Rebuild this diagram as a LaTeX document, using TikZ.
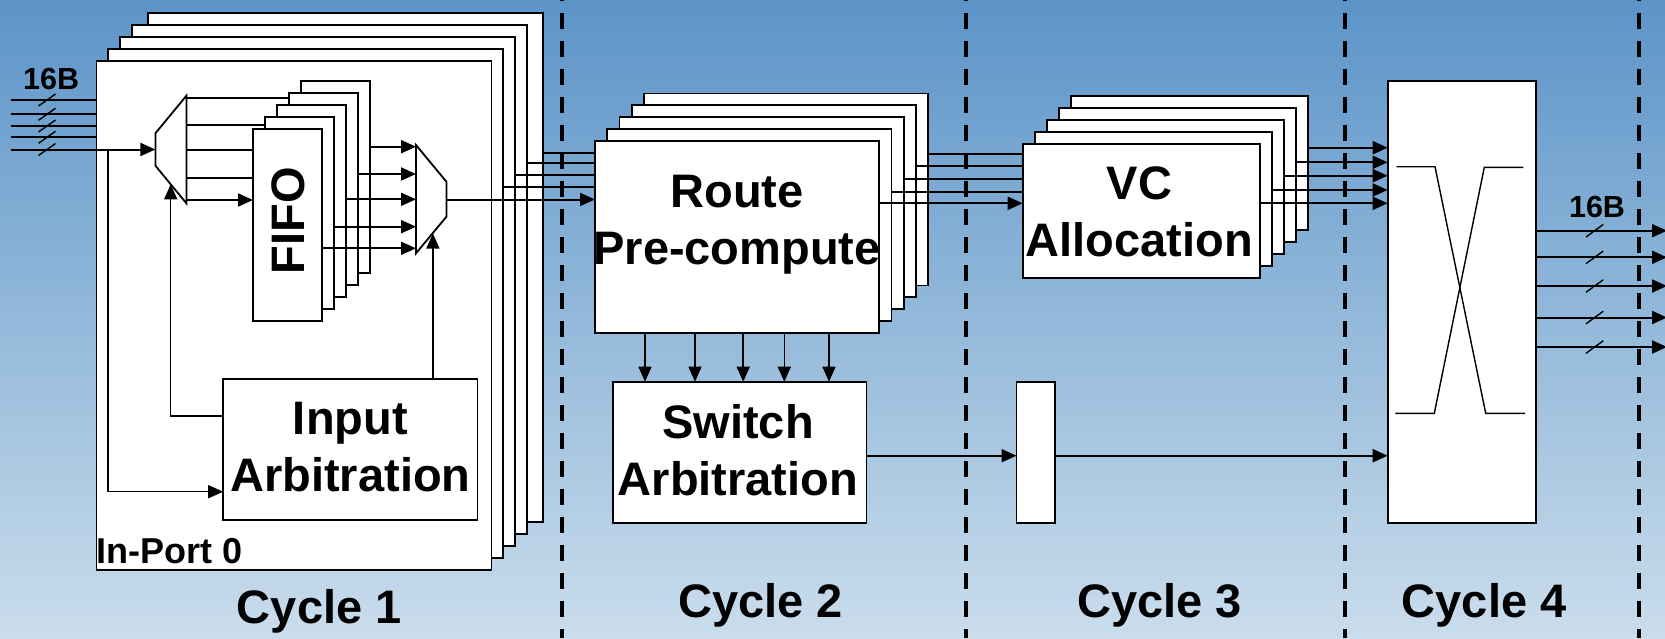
\documentclass[tikz,border=0pt]{standalone}
\usepackage{fontspec}
\setmainfont{Liberation Sans}
\usetikzlibrary{arrows.meta,calc}

\definecolor{bgtop}{RGB}{92,148,200}
\definecolor{bgmid}{RGB}{140,182,216}
\definecolor{bgbot}{RGB}{202,221,236}

\tikzset{
  blk/.style={draw=black, fill=white, line width=1.8pt, inner sep=0pt, outer sep=0pt, anchor=north west},
  sig/.style={line width=2pt},
  ctl/.style={line width=1.5pt},
  arr/.style={-{Triangle[length=15pt,width=13pt]}},
  cut/.style={line width=1.4pt},
  lbl/.style={font=\bfseries\fontsize{47}{57}\selectfont, align=center, inner sep=0pt},
  bw/.style={font=\bfseries\fontsize{30.5}{34}\selectfont, anchor=base, inner sep=0pt},
  stage/.style={line width=4pt, dash pattern=on 16pt off 12pt, dash phase=15pt},
}

\begin{document}
\begin{tikzpicture}[x=1pt, y=-1pt]
    % background
    \useasboundingbox (0,0) rectangle (1665,638);
    \clip (0,0) rectangle (1665,638);
    \shade[top color=bgtop, middle color=bgmid, bottom color=bgbot] (0,0) rectangle (1665,638);

    % cycle borders
    \foreach \x in {562,966.2,1344.7,1639}
        \draw[stage] (\x,0) -- (\x,638);

    % In-Port stack
    \foreach \i/\dx/\dy in {4/51.5/48.3,3/35.7/36.3,2/23.6/23.7,1/11.6/11.7,0/0/0}
        \node[blk, minimum width=395, minimum height=509] (ip\i) at (96.4+\dx,61-\dy) {};
    \node[font=\bfseries\fontsize{36}{40}\selectfont, anchor=base west, inner sep=0pt] (ip-txt) at (96.4,563.3) {In-Port 0};

    % FIFO stack
    \foreach \i in {4,3,2,1,0}
        \node[blk, minimum width=69, minimum height=192] (ff\i) at (253+12*\i,129-12*\i) {};
    \node[lbl, rotate=90] (ff-txt) at (287.9,220.5) {FIFO};

    % demux and mux
    \coordinate (dmx-ne) at (186.4,95.7);
    \coordinate (dmx-in) at (155.4,149.5);
    \coordinate (dmx-ctl) at (170.7,184.3);
    \draw[line width=1.8pt] (155.4,133.3) -- (dmx-ne) -- (186.4,203.3) -- (155.4,165.7) -- cycle;
    \coordinate (mux-w) at (416,199);
    \coordinate (mux-out) at (446.4,199.5);
    \coordinate (mux-ctl) at (432.9,233.5);
    \draw[line width=1.8pt] (416,145) -- (446.4,181.7) -- (446.4,216.7) -- (416,253.3) -- cycle;

    % Input Arbitration
    \node[blk, minimum width=254.3, minimum height=140.7] (ia) at (223.2,379.3) {};
    \node[lbl] (ia-txt) at (350.4,447.5) {Input\\Arbitration};

    % Route Pre-compute stack
    \foreach \i in {4,3,2,1,0}
        \node[blk, minimum width=284.3, minimum height=192] (rp\i) at (595+12.2*\i,141-11.9*\i) {};
    \node[lbl] (rp-txt) at (737,224.9) {Route\\Pre-compute};

    % Switch Arbitration
    \node[blk, minimum width=253.5, minimum height=141] (sa) at (612.9,381.7) {};
    \node[lbl] (sa-txt) at (738,450) {Switch\\Arbitration};

    % VC Allocation stack
    \foreach \i in {4,3,2,1,0}
        \node[blk, minimum width=237.3, minimum height=134.3] (vc\i) at (1022.7+12*\i,144-12*\i) {};
    \node[lbl] (vc-txt) at (1139.5,212.2) {VC\\Allocation};

    % pipeline register and crossbar
    \node[blk, minimum width=38.1, minimum height=141] (reg) at (1016.5,381.7) {};
    \node[blk, minimum width=148, minimum height=441.7] (xbar) at (1387.7,81) {};
    \draw[cut] (1396.7,166.7) -- (1435,166.7) -- (1485.7,413.3) -- (1525,413.3);
    \draw[cut] (1395.3,413.3) -- (1434.3,413.3) -- (1484.3,167.3) -- (1523.3,167.3);

    % inputs
    \coordinate (lin) at (10.7,0);
    \foreach \y in {100,114.3,126,137.3}
        \draw[sig] (lin |- 0,\y) -- (ip0.west |- 0,\y);
    \draw[sig, arr] (lin |- dmx-in) -- (dmx-in);
    \foreach \y in {100,114.3,126,137.3,149.5}
        \draw[cut] (38.5,\y+6) -- (55.5,\y-6);
    \node[bw] (in-bw) at (51.2,89.3) {16B};

    % arbitration control
    \coordinate (tap) at (108.2,149.5);
    \draw[ctl, arr] (tap) |- (ia.west |- 0,491.7);
    \draw[ctl, arr] (ia.west |- 0,416) -| (dmx-ctl);
    \draw[ctl, arr] (ia.north -| mux-ctl) -- (mux-ctl);

    % demux to FIFOs
    \foreach \y/\f in {98.3/3,125/1,150/0,178.3/0}
        \draw[sig] (dmx-ne |- 0,\y) -- (ff\f.west |- 0,\y);
    \draw[sig, arr] (dmx-ne |- 0,200) -- (ff0.west |- 0,200);

    % FIFOs to mux
    \foreach \y/\f in {146.7/4,174/3,199.3/2,226.7/1,248.3/0}
        \draw[sig, arr] (ff\f.east |- 0,\y) -- (mux-w |- 0,\y);
    \draw[sig, arr] (mux-out) -- (rp0.west |- mux-out);

    % In-Port to Route
    \foreach \y/\f in {153.3/4,162.7/3,175/2,186.7/1}
        \draw[sig] (ip\f.east |- 0,\y) -- (rp0.west |- 0,\y);

    % Route to VC
    \foreach \y/\f in {154/4,166/3,179/2,191.7/1}
        \draw[sig] (rp\f.east |- 0,\y) -- (vc0.west |- 0,\y);
    \draw[sig, arr] (rp0.east |- 0,203.3) -- (vc0.west |- 0,203.3);

    % VC to crossbar
    \foreach \y/\f in {147.7/4,162.3/3,175.7/2,190/1,203.3/0}
        \draw[sig, arr] (vc\f.east |- 0,\y) -- (xbar.west |- 0,\y);

    % Route to Switch Arbitration
    \foreach \x in {645,695,743.2,784.3,829}
        \draw[ctl, arr] (rp0.south -| \x,0) -- (sa.north -| \x,0);
    \draw[sig, arr] (sa.east |- 0,455.7) -- (reg.west |- 0,455.7);
    \draw[sig, arr] (reg.east |- 0,455.7) -- (xbar.west |- 0,455.7);

    % outputs
    \coordinate (rout) at (1667,0);
    \foreach \y in {230.7,257.3,286,317.5,347} {
        \draw[sig, arr] (xbar.east |- 0,\y) -- (rout |- 0,\y);
        \draw[cut] (1586,\y+6.3) -- (1603.3,\y-6.3);
    }
    \node[bw] (out-bw) at (1597,217.7) {16B};

    % cycle labels
    \node[lbl, anchor=base] (cyc1) at (319.3,623) {Cycle 1};
    \node[lbl, anchor=base] (cyc2) at (760.8,617) {Cycle 2};
    \node[lbl, anchor=base] (cyc3) at (1159.4,617) {Cycle 3};
    \node[lbl, anchor=base] (cyc4) at (1484.1,617) {Cycle 4};
\end{tikzpicture}
\end{document}
